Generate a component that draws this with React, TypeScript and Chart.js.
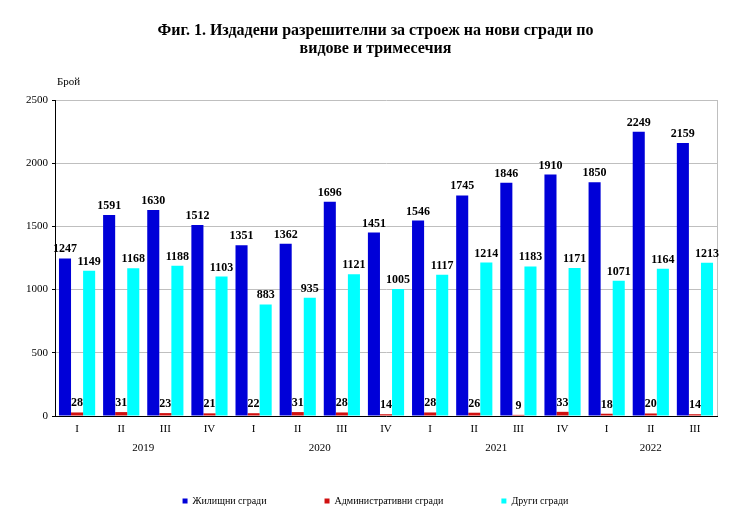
import React, { useEffect, useRef } from "react";
import { Chart, registerables } from "chart.js";

Chart.register(...registerables);

const quarters = ["I", "II", "III", "IV", "I", "II", "III", "IV", "I", "II", "III", "IV", "I", "II", "III"];
const years = ["2019", "2020", "2021", "2022"];
const yearQuarterCounts = [4, 4, 4, 3];
const residential = [1247, 1591, 1630, 1512, 1351, 1362, 1696, 1451, 1546, 1745, 1846, 1910, 1850, 2249, 2159];
const administrative = [28, 31, 23, 21, 22, 31, 28, 14, 28, 26, 9, 33, 18, 20, 14];
const other = [1149, 1168, 1188, 1103, 883, 935, 1121, 1005, 1117, 1214, 1183, 1171, 1071, 1164, 1213];
const seriesNames = ["Жилищни сгради", "Административни сгради", "Други сгради"];
const titleLines = ["Фиг. 1. Издадени разрешителни за строеж на нови сгради по", "видове и тримесечия"];
const yUnit = "Брой";

const FONT = "'Liberation Serif', 'Times New Roman', serif";

const extrasPlugin = {
  id: "extras",
  afterDatasetsDraw(chart: any) {
    const ctx = chart.ctx;
    const area = chart.chartArea;
    ctx.save();
    // right border of plot area
    ctx.strokeStyle = "#BFBFBF";
    ctx.lineWidth = 1;
    ctx.beginPath();
    ctx.moveTo(Math.round(area.right) + 0.5, area.top);
    ctx.lineTo(Math.round(area.right) + 0.5, area.bottom);
    ctx.stroke();
    // data labels
    ctx.fillStyle = "#000";
    ctx.font = `bold 12px ${FONT}`;
    ctx.textAlign = "center";
    ctx.textBaseline = "alphabetic";
    chart.data.datasets.forEach((ds: any, di: number) => {
      const meta = chart.getDatasetMeta(di);
      meta.data.forEach((el: any, i: number) => {
        ctx.fillText(String(ds.data[i]), el.x, el.y - 6);
      });
    });
    // unit label
    ctx.font = `11px ${FONT}`;
    ctx.textAlign = "left";
    ctx.textBaseline = "middle";
    ctx.fillText(yUnit, area.left + 2, area.top - 18);
    // year labels
    const xs = chart.scales.x;
    ctx.textAlign = "center";
    let start = 0;
    years.forEach((y, i) => {
      const end = start + yearQuarterCounts[i] - 1;
      const cx = (xs.getPixelForValue(start) + xs.getPixelForValue(end)) / 2;
      ctx.fillText(y, cx, area.bottom + 32);
      start = end + 1;
    });
    ctx.restore();
  },
};

export default function App() {
  const ref = useRef<HTMLCanvasElement>(null);
  useEffect(() => {
    if (!ref.current) return;
    const chart = new Chart(ref.current, {
      type: "bar",
      data: {
        labels: quarters,
        datasets: [
          { label: seriesNames[0], data: residential, backgroundColor: "#0000D8", borderWidth: 0 },
          { label: seriesNames[1], data: administrative, backgroundColor: "#D01010", borderWidth: 0 },
          { label: seriesNames[2], data: other, backgroundColor: "#00FFFF", borderWidth: 0 },
        ],
      },
      options: {
        responsive: false,
        animation: false,
        layout: { padding: { left: 22, right: 22, top: 0, bottom: 7 } },
        datasets: { bar: { categoryPercentage: 0.82, barPercentage: 1.0 } },
        plugins: {
          title: {
            display: true,
            text: titleLines,
            color: "#000",
            font: { family: FONT, size: 16, weight: "bold", lineHeight: 1.1 },
            padding: { top: 22, bottom: 42.8 },
          },
          legend: {
            display: true,
            position: "bottom",
            labels: {
              color: "#000",
              font: { family: FONT, size: 10 },
              boxWidth: 5,
              boxHeight: 5,
              padding: 58,
            },
          },
          tooltip: { enabled: false },
        },
        scales: {
          x: {
            grid: { display: false, drawTicks: false },
            border: { display: true, color: "#000" },
            ticks: { color: "#000", font: { family: FONT, size: 11 }, padding: 7, maxRotation: 0, autoSkip: false },
            afterFit(scale: any) {
              scale.height = 22;
            },
          },
          y: {
            min: 0,
            max: 2500,
            grid: { color: "#BFBFBF", tickLength: 3, tickColor: "#000" },
            border: { display: true, color: "#000" },
            ticks: {
              stepSize: 500,
              color: "#000",
              font: { family: FONT, size: 11 },
              padding: 4,
              callback: (v: any) => String(v),
            },
            afterFit(scale: any) {
              scale.width = 33;
            },
          },
          yRight: {
            type: "linear",
            position: "right",
            min: 0,
            max: 2500,
            grid: { display: false, drawTicks: false },
            border: { display: false },
            ticks: { display: false },
            afterFit(scale: any) {
              scale.width = 12;
            },
          },
        },
      },
      plugins: [extrasPlugin],
    });
    return () => chart.destroy();
  }, []);
  return (
    <div style={{ position: "absolute", left: 0, top: 0, width: 751, height: 523, background: "#fff" }}>
      <canvas ref={ref} width={751} height={523} style={{ display: "block" }} />
    </div>
  );
}
